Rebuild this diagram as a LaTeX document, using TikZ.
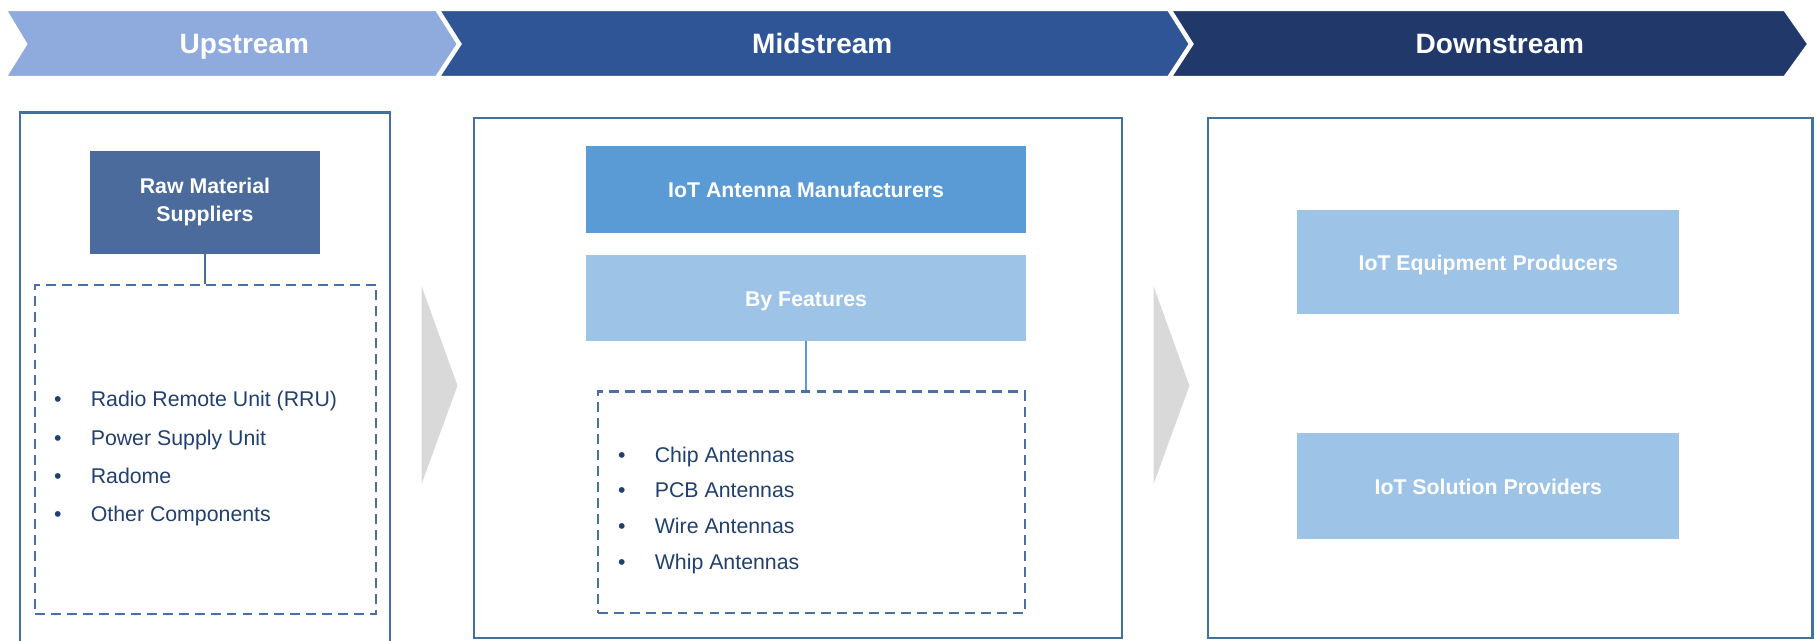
\documentclass[tikz,border=0pt]{standalone}
\usepackage{fontspec}
\setmainfont{Liberation Sans}
\definecolor{upC}{HTML}{8FAADC}
\definecolor{midC}{HTML}{2F5597}
\definecolor{downC}{HTML}{21386A}
\definecolor{rawC}{HTML}{4A6B9B}
\definecolor{mfgC}{HTML}{5B9BD5}
\definecolor{featC}{HTML}{9DC3E6}
\definecolor{panelC}{HTML}{41719C}
\definecolor{dashC}{HTML}{4A6FA5}
\definecolor{itemC}{HTML}{22406F}
\definecolor{flowC}{HTML}{D9D9D9}
\tikzset{
  capcentre/.style={text height=1.38ex, text depth=0pt},
  chev/.style={draw=white, line width=1.5pt, line join=miter},
  stagelabel/.style={text=white, font=\fontsize{12.1}{14}\selectfont\bfseries, capcentre},
  panel/.style={draw=panelC, line width=1pt, fill=none, inner sep=0pt},
  boxtext/.style={text=white, font=\fontsize{9.2}{11.8}\selectfont\bfseries,
    align=center, inner sep=0pt},
  boxlabel/.style={boxtext, capcentre},
  listframe/.style={draw=dashC, line width=0.9pt, dash pattern=on 4.3pt off 2.6pt, inner sep=0pt},
  bulletmark/.style={text=itemC, font=\fontsize{9.2}{11}\selectfont, inner sep=0pt, capcentre},
  itemtext/.style={text=itemC, font=\fontsize{9.2}{11}\selectfont, anchor=west, inner sep=0pt, capcentre},
  link/.style={line width=0.6pt},
  flow/.style={fill=flowC, draw=none}
}
\begin{document}
\begin{tikzpicture}[x=0.5pt, y=-0.5pt]
\useasboundingbox (0,0) rectangle (1568,553);
\clip (0,0) rectangle (1568,553);

% stage banner
\fill[upC, chev] (4,8) -- (377,8) -- (396,38) -- (377,67) -- (4,67) -- (22,38) -- cycle;
\fill[midC, chev] (378,8) -- (1009,8) -- (1028,38) -- (1009,67) -- (378,67) -- (397,38) -- cycle;
\fill[downC, chev] (1010,8) -- (1541,8) -- (1562,38) -- (1541,67) -- (1010,67) -- (1029,38) -- cycle;
\node[stagelabel] (up) at (211,39) {Upstream};
\node[stagelabel] (mid) at (710,39) {Midstream};
\node[stagelabel] (down) at (1295,39) {Downstream};

% flow markers between panels
\fill[flow] (364,247) -- (395,333) -- (364,418) -- cycle;
\fill[flow] (996,247) -- (1027,333) -- (996,418) -- cycle;

% upstream panel
\node[panel, minimum width=160pt, minimum height=241.5pt] (upPanel) at (177,338.5) {};
\node[boxtext, fill=rawC, minimum width=99pt, minimum height=44.5pt] (raw) at (177,174.5) {Raw Material\\Suppliers};
\node[listframe, minimum width=147.5pt, minimum height=142pt] (rawList) at (177.5,388) {};
\draw[link, draw=rawC] (raw.south) -- (raw.south |- rawList.north);
\foreach \y/\t [count=\i] in {344/Radio Remote Unit (RRU), 377/Power Supply Unit, 410/Radome, 443/Other Components}{
  \node[bulletmark] (ub\i) at (50,\y) {•};
  \node[itemtext] (ut\i) at (78,\y) {\t};
}

% midstream panel
\node[panel, minimum width=280pt, minimum height=224.5pt] (midPanel) at (689,326.5) {};
\node[boxlabel, fill=mfgC, minimum width=190pt, minimum height=37.5pt] (mfg) at (696,163.5) {IoT Antenna Manufacturers};
\node[boxlabel, fill=featC, minimum width=190pt, minimum height=37pt] (feat) at (696,257) {By Features};
\node[listframe, minimum width=184.5pt, minimum height=95.5pt] (featList) at (700.5,433.5) {};
\draw[link, draw=mfgC] (feat.south) -- (feat.south |- featList.north);
\foreach \y/\t [count=\i] in {392/Chip Antennas, 422/PCB Antennas, 453/Wire Antennas, 484/Whip Antennas}{
  \node[bulletmark] (mb\i) at (537,\y) {•};
  \node[itemtext] (mt\i) at (565,\y) {\t};
}

% downstream panel
\node[panel, minimum width=261pt, minimum height=224.5pt] (downPanel) at (1304,326.5) {};
\node[boxlabel, fill=featC, minimum width=165pt, minimum height=45pt] (equip) at (1285,226) {IoT Equipment Producers};
\node[boxlabel, fill=featC, minimum width=165pt, minimum height=45.5pt] (sol) at (1285,419.5) {IoT Solution Providers};
\end{tikzpicture}
\end{document}
